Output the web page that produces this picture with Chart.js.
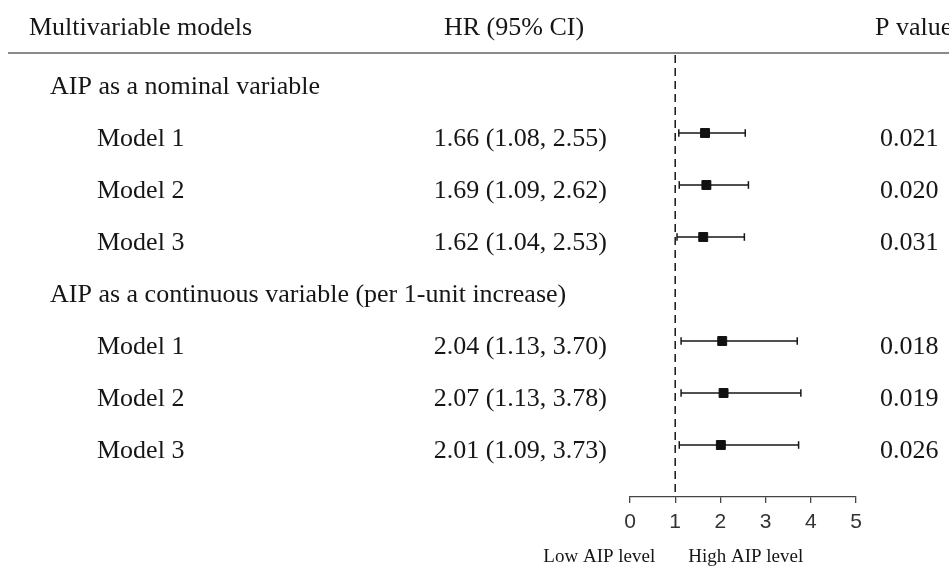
<!DOCTYPE html>
<html>
<head>
<meta charset="utf-8">
<script src="https://cdn.jsdelivr.net/npm/chart.js@4"></script>
<style>
  body { margin: 0; background: #fff; }
</style>
</head>
<body>
<canvas id="forest" width="949" height="566"></canvas>
<script>
const rowLabels = [
  "AIP as a nominal variable",
  "Model 1",
  "Model 2",
  "Model 3",
  "AIP as a continuous variable (per 1-unit increase)",
  "Model 1",
  "Model 2",
  "Model 3"
];
const hrValues = [null, 1.66, 1.69, 1.62, null, 2.04, 2.07, 2.01];
const lowerCI = [null, 1.08, 1.09, 1.04, null, 1.13, 1.13, 1.09];
const upperCI = [null, 2.55, 2.62, 2.53, null, 3.70, 3.78, 3.73];
const pValues = ["", "0.021", "0.020", "0.031", "", "0.018", "0.019", "0.026"];
const xTicks = [0, 1, 2, 3, 4, 5];
const headers = ["Multivariable models", "HR (95% CI)", "P value"];
const sideLabels = ["Low AIP level", "High AIP level"];

const serif = "'Liberation Serif', 'Times New Roman', serif";
const ink = "#161616";

// square markers for the hazard ratios
const pointSet = {
  data: hrValues.map((v, i) => v === null ? null : { x: v, y: i }).filter(p => p),
  pointStyle: "rect",
  pointRadius: 6.3,
  backgroundColor: "#111",
  borderColor: "#111",
  borderWidth: 1
};

// one line per row for the confidence interval, caps as vertical point lines
const ciSets = [];
hrValues.forEach((v, i) => {
  if (v === null) return;
  ciSets.push({
    data: [{ x: lowerCI[i], y: i }, { x: upperCI[i], y: i }],
    showLine: true,
    borderColor: ink,
    borderWidth: 1.7,
    pointStyle: "line",
    pointRotation: 90,
    pointRadius: 3.8,
    pointBorderWidth: 1.5,
    pointBorderColor: ink
  });
});

const refLine = {
  data: [{ x: 1, y: -0.5 }, { x: 1, y: 8 }],
  showLine: true,
  borderColor: ink,
  borderWidth: 1.5,
  borderDash: [8, 5],
  pointRadius: 0
};

const textColumns = {
  id: "textColumns",
  afterDraw(chart) {
    const ctx = chart.ctx;
    const yScale = chart.scales.y;
    const xScale = chart.scales.x;
    ctx.save();
    ctx.fillStyle = ink;
    ctx.textBaseline = "alphabetic";

    // header
    ctx.font = "26px " + serif;
    ctx.textAlign = "left";
    ctx.fillText(headers[0], 29, 35);
    ctx.textAlign = "center";
    ctx.fillText(headers[1], 514, 35);
    ctx.textAlign = "left";
    ctx.fillText(headers[2], 875, 35);

    ctx.strokeStyle = "#8a8a8a";
    ctx.lineWidth = 2;
    ctx.beginPath();
    ctx.moveTo(8, 53);
    ctx.lineTo(949, 53);
    ctx.stroke();

    // rows
    rowLabels.forEach((label, i) => {
      const y = yScale.getPixelForValue(i) + 13;
      const isGroup = hrValues[i] === null;
      ctx.textAlign = "left";
      ctx.fillText(label, isGroup ? 50 : 97, y);
      if (!isGroup) {
        const txt = hrValues[i].toFixed(2) + " (" + lowerCI[i].toFixed(2) + ", " + upperCI[i].toFixed(2) + ")";
        ctx.textAlign = "right";
        ctx.fillText(txt, 607, y);
        ctx.textAlign = "left";
        ctx.fillText(pValues[i], 880, y);
      }
    });

    // direction labels under the axis
    const x1 = xScale.getPixelForValue(1);
    ctx.font = "19px " + serif;
    ctx.textAlign = "right";
    ctx.fillText(sideLabels[0], x1 - 20, 562);
    ctx.textAlign = "left";
    ctx.fillText(sideLabels[1], x1 + 13, 562);
    ctx.restore();
  }
};

new Chart("forest", {
  type: "scatter",
  data: {
    datasets: [pointSet, ...ciSets, refLine]
  },
  options: {
    responsive: false,
    animation: false,
    devicePixelRatio: 1,
    layout: {
      padding: { left: 630, right: 93, top: 55, bottom: 0 }
    },
    plugins: {
      legend: { display: false },
      tooltip: { enabled: false }
    },
    scales: {
      x: {
        type: "linear",
        min: 0,
        max: 5,
        afterBuildTicks: (s) => { s.ticks = xTicks.map(v => ({ value: v })); },
        afterFit: (s) => { s.height = 69; },
        grid: {
          drawOnChartArea: false,
          drawTicks: true,
          tickLength: 6,
          color: "#444",
          lineWidth: 1.3
        },
        border: { display: true, color: "#444", width: 1.3 },
        ticks: {
          font: { family: "'Liberation Sans', Arial, sans-serif", size: 21 },
          color: "#333",
          padding: 7
        }
      },
      y: {
        type: "linear",
        reverse: true,
        min: -0.5,
        max: 8,
        display: false
      }
    }
  },
  plugins: [textColumns]
});
</script>
</body>
</html>
